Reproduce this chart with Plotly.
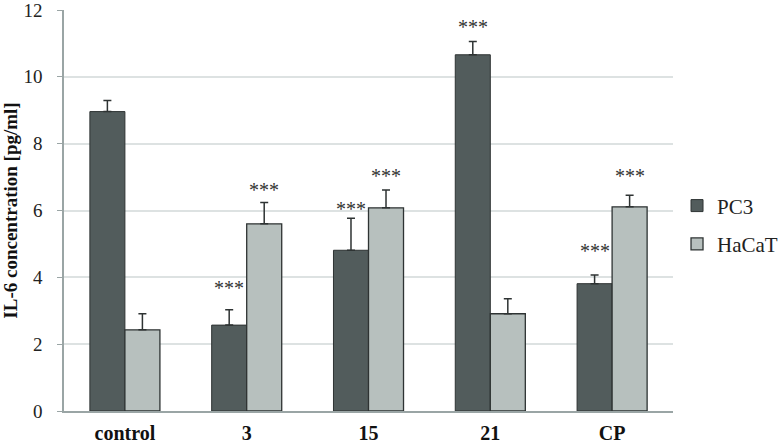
import plotly.graph_objects as go

categories = ["control", "3", "15", "21", "CP"]
pc3_values = [8.96, 2.57, 4.81, 10.66, 3.81]
pc3_errors = [0.33, 0.46, 0.96, 0.40, 0.26]
hacat_values = [2.43, 5.60, 6.08, 2.91, 6.11]
hacat_errors = [0.48, 0.64, 0.53, 0.45, 0.35]
# significance marks: (category, series, y position of label)
sig_categories = ["3", "3", "15", "15", "21", "CP", "CP"]
sig_series = ["PC3", "HaCaT", "PC3", "HaCaT", "PC3", "PC3", "HaCaT"]
sig_y = [3.84, 6.76, 6.19, 7.17, 11.64, 4.94, 7.17]
sig_text = "***"

font_family = "Liberation Serif, Times New Roman, serif"
pc3_color = "#525c5c"
hacat_color = "#b7c0be"
outline = "#2e3333"

fig = go.Figure()
fig.add_trace(go.Bar(
    name="PC3", x=categories, y=pc3_values, legendgroup="a",
    marker=dict(color=pc3_color, line=dict(color=outline, width=1)),
    error_y=dict(type="data", symmetric=False, array=pc3_errors,
                 arrayminus=[0] * len(pc3_errors),
                 color="#2e3333", thickness=1.5, width=4),
))
fig.add_trace(go.Bar(
    name="HaCaT", x=categories, y=hacat_values, legendgroup="b",
    marker=dict(color=hacat_color, line=dict(color=outline, width=1.3)),
    error_y=dict(type="data", symmetric=False, array=hacat_errors,
                 arrayminus=[0] * len(hacat_errors),
                 color="#2e3333", thickness=1.5, width=4),
))

for cat, ser, yv in zip(sig_categories, sig_series, sig_y):
    idx = categories.index(cat)
    offset = -0.1437 if ser == "PC3" else 0.1437
    fig.add_annotation(
        x=idx + offset, y=yv, text=sig_text, showarrow=False,
        font=dict(family=font_family, size=20, color="#333333"),
        yanchor="middle", yshift=-5,
    )

fig.update_layout(
    width=780, height=444,
    margin=dict(l=64, r=107, t=10, b=33, autoexpand=False),
    paper_bgcolor="white", plot_bgcolor="white",
    barmode="group", bargap=0.425, bargroupgap=0,
    font=dict(family=font_family, size=18, color="#222222"),
    legend=dict(
        x=1.0066, y=0.464, xanchor="left", yanchor="middle",
        font=dict(family=font_family, size=21, color="#222222"),
        itemwidth=30, traceorder="grouped", tracegroupgap=8,
        bgcolor="rgba(0,0,0,0)",
    ),
    xaxis=dict(
        type="category", tickangle=0, range=[-0.5, 4.5], automargin=False,
        showline=True, linecolor="#9aa5a5", linewidth=1.5,
        ticks="", tickfont=dict(family=font_family, size=20, color="#111111",
                                weight="bold"),
        ticklabelstandoff=3,
    ),
    yaxis=dict(
        range=[0, 12], dtick=2, showline=True, linecolor="#9aa5a5",
        automargin=False,
        linewidth=1.5, ticks="outside", ticklen=5, tickcolor="#9aa5a5",
        showgrid=True, gridcolor="#dde2e2", gridwidth=1.5,
        tickfont=dict(family=font_family, size=19, color="#222222"),
        ticklabelstandoff=11, zeroline=False, ticklabeloverflow="allow",
        title=dict(text="IL-6 concentration [pg/ml]", standoff=6,
                   font=dict(family=font_family, size=19, color="#111111",
                             weight="bold")),
    ),
)

fig.write_html("out.html",
               config={"displayModeBar": False},
               post_script="document.body.style.margin='0';"
                           "document.body.style.overflow='hidden';")
